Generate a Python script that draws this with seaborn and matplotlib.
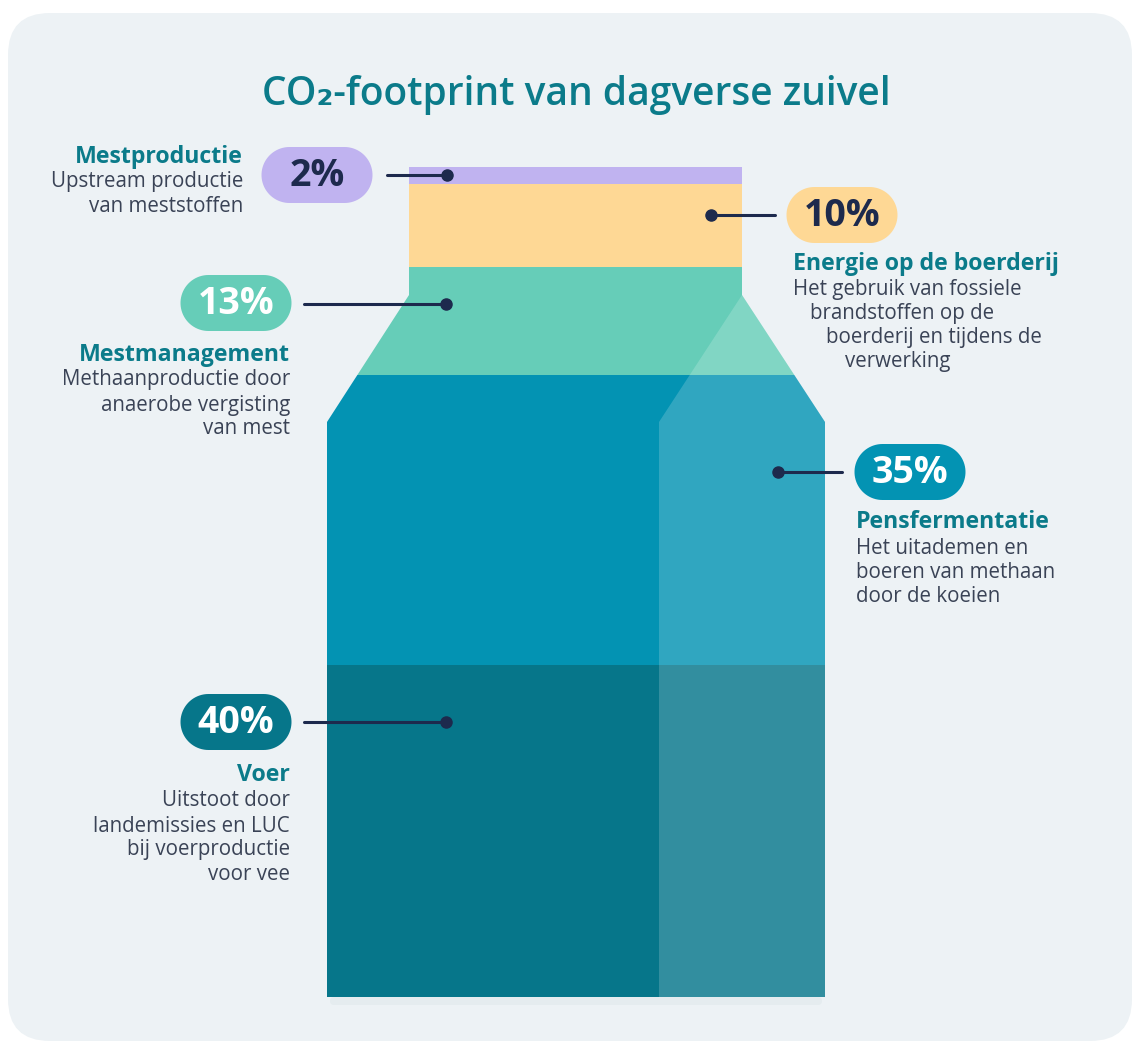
import numpy as np
import pandas as pd
import matplotlib
matplotlib.use("Agg")
import matplotlib.pyplot as plt
import seaborn as sns
from matplotlib.patches import Polygon, FancyBboxPatch

# ---------------- data ----------------
categories = ["Voer", "Pensfermentatie", "Mestmanagement",
              "Energie op de boerderij", "Mestproductie"]
shares = [40, 35, 13, 10, 2]
seg_colors = ["#06768a", "#0393b3", "#66cdb8", "#fed895", "#c0b3f0"]
pct_text_colors = ["white", "white", "white", "#1d2a4d", "#1d2a4d"]
descriptions = [
    ["Uitstoot door", "landemissies en LUC", "bij voerproductie", "voor vee"],
    ["Het uitademen en", "boeren van methaan", "door de koeien"],
    ["Methaanproductie door", "anaerobe vergisting", "van mest"],
    ["Het gebruik van fossiele", "brandstoffen op de", "boerderij en tijdens de", "verwerking"],
    ["Upstream productie", "van meststoffen"],
]
title = "CO₂-footprint van dagverse zuivel"

# ---------------- layout (pixels) ----------------
W, H = 1132, 1041
TEAL = "#0b7b8a"
BODY = "#3a4356"
NAVY = "#1d2a4d"
BG = "#edf2f5"

sns.set_theme(style="white")
plt.rcParams['font.family'] = ['Open Sans', 'DejaVu Sans']

fig = plt.figure(figsize=(W / 100, H / 100), dpi=100)
fig.patch.set_facecolor("white")

# background
bg = fig.add_axes([0, 0, 1, 1], zorder=0)
bg.set_xlim(0, W); bg.set_ylim(H, 0); bg.axis("off")
bg.add_patch(FancyBboxPatch((8, 13), W - 8, H - 13,
                            boxstyle="round,pad=0,rounding_size=42",
                            facecolor=BG, edgecolor="none"))
# subtle shadow under carton
bg.add_patch(FancyBboxPatch((330, 997), 492, 8,
                            boxstyle="round,pad=0,rounding_size=4",
                            facecolor="#e5ecef", edgecolor="none"))

# carton axes
cx0, cx1, cy0, cy1 = 327, 825, 167, 997
cax = fig.add_axes([cx0 / W, (H - cy1) / H, (cx1 - cx0) / W, (cy1 - cy0) / H], zorder=1)

df = pd.DataFrame({"stack": ["melk"] * len(shares), "category": categories, "share": shares})
df["bottom"] = df["share"].cumsum() - df["share"]
for i, row in df.iterrows():
    sns.barplot(x=[row["stack"]], y=[row["share"]], bottom=row["bottom"],
                color=seg_colors[i], saturation=1, width=1, ax=cax,
                edgecolor="none", linewidth=0)
total = float(sum(shares))
cax.set_xlim(-0.5, 0.5)
cax.set_ylim(0, total)
cax.axis("off")


def px2d(px, py):
    return ((px - cx0) / (cx1 - cx0) - 0.5, (cy1 - py) / (cy1 - cy0) * total)


carton_px = [(409, 167), (742, 167), (742, 295), (825, 422), (825, 997),
             (327, 997), (327, 422), (409, 295)]
carton = Polygon([px2d(*p) for p in carton_px], closed=True, transform=cax.transData)
for p in cax.patches:
    p.set_clip_path(carton)

face_px = [(742, 295), (825, 422), (825, 997), (659, 997), (659, 422)]
face = Polygon([px2d(*p) for p in face_px], closed=True, facecolor="white",
               alpha=0.18, edgecolor="none", zorder=5)
cax.add_patch(face)

# overlay axes for annotations
ov = fig.add_axes([0, 0, 1, 1], zorder=2)
ov.set_xlim(0, W); ov.set_ylim(H, 0); ov.axis("off")
ov.patch.set_alpha(0)

ov.text(576, 105, title, ha="center", va="baseline", fontsize=28,
        color=TEAL, fontweight="semibold")

pills = {
    "Mestproductie": dict(c=(317, 175), line=(387, 447, 175),
                          head=(243, 157), ha="right", lines=[(243, 182), (243, 207)]),
    "Energie op de boerderij": dict(c=(842, 215), line=(775, 711, 215),
                                    head=(793, 264), ha="left",
                                    lines=[(793, 289), (810, 313), (826, 338), (845, 362)]),
    "Mestmanagement": dict(c=(236, 303), line=(304, 446, 304),
                           head=(290, 355), ha="right",
                           lines=[(290, 380), (290, 405), (290, 429)]),
    "Pensfermentatie": dict(c=(910, 472), line=(842, 778, 472),
                            head=(856, 522), ha="left",
                            lines=[(856, 548), (856, 573), (856, 597)]),
    "Voer": dict(c=(236, 722), line=(304, 446, 722),
                 head=(290, 775), ha="right",
                 lines=[(290, 801), (290, 826), (290, 850), (290, 875)]),
}


def stadium(cx, cy, w, h, n=40):
    r = h / 2
    t1 = np.linspace(np.pi / 2, 3 * np.pi / 2, n)     # left cap
    t2 = np.linspace(-np.pi / 2, np.pi / 2, n)        # right cap
    left = np.column_stack([cx - w / 2 + r + r * np.cos(t1), cy + r * np.sin(t1)])
    right = np.column_stack([cx + w / 2 - r + r * np.cos(t2), cy + r * np.sin(t2)])
    return np.vstack([left, right])


PW, PH = 111, 56
for i, cat in enumerate(categories):
    spec = pills[cat]
    x, y = spec["c"]
    ov.add_patch(Polygon(stadium(x, y, PW, PH), closed=True,
                         facecolor=seg_colors[i], edgecolor="none"))
    ov.text(x, y + 1, f"{shares[i]}%", ha="center", va="center", fontsize=27,
            fontweight="bold", color=pct_text_colors[i])
    xs, xd, ly = spec["line"]
    ov.plot([xs, xd], [ly, ly], color=NAVY, lw=2.2, solid_capstyle="round")
    ov.plot([xd], [ly], "o", color=NAVY, ms=8)
    hx, hy = spec["head"]
    ov.text(hx, hy, cat, ha=spec["ha"], va="center", fontsize=16.7,
            fontweight="bold", color=TEAL)
    for (lx, lyy), txt in zip(spec["lines"], descriptions[i]):
        ov.text(lx, lyy, txt, ha=spec["ha"], va="center", fontsize=14.8, color=BODY)

fig.savefig("out.png", dpi=100, facecolor="white")
